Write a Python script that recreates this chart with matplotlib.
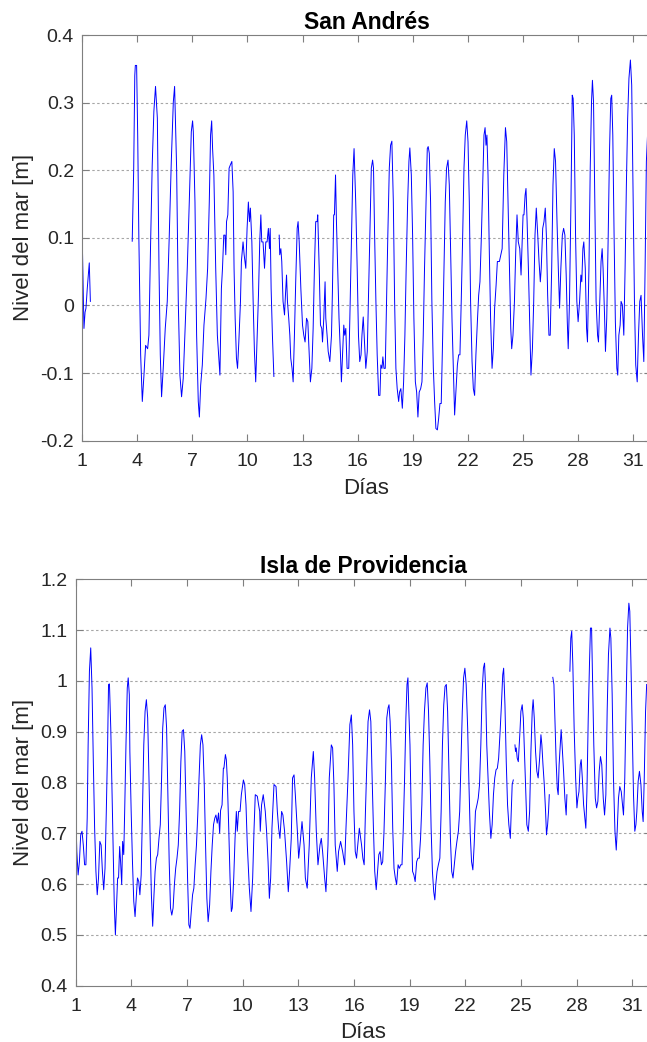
import numpy as np
import matplotlib
matplotlib.use("Agg")
import matplotlib.pyplot as plt
from matplotlib.ticker import FuncFormatter

plt.rcParams["font.family"] = ["Liberation Sans", "DejaVu Sans"]
plt.rcParams["axes.unicode_minus"] = False

nan = np.nan

# ---- San Andrés: sea level (m) vs day of month (NaN = missing records) ----
dias_sa = [
    1.00, 1.09, 1.15, 1.20, 1.27, 1.38, 1.44, nan,
    3.72, 3.80, 3.86, 3.89, 3.96, 4.02, 4.08, 4.14, 4.18, 4.27, 4.36, 4.45,
    4.56, 4.63, 4.72, 4.81, 4.90, 4.99, 5.09, 5.18, 5.25, 5.32, 5.41, 5.52,
    5.63, 5.74, 5.85, 5.96, 6.03, 6.14, 6.23, 6.32, 6.41, 6.50, 6.61, 6.72,
    6.83, 6.94, 7.01, 7.05, 7.14, 7.23, 7.32, 7.38, 7.45, 7.54, 7.63, 7.74,
    7.83, 7.92, 7.99, 8.05, 8.10, 8.17, 8.27, 8.36, 8.43, 8.50, 8.58, 8.64,
    8.71, 8.78, 8.82, 8.86, 8.93, 9.00, 9.07, 9.15, 9.22, 9.27, 9.33, 9.40,
    9.46, 9.53, 9.62, 9.67, 9.76, 9.82, 9.91, 9.98, 10.05, 10.11, 10.16,
    10.24, 10.31, 10.38, 10.45, 10.53, 10.60, 10.67, 10.73, 10.78, 10.85,
    10.93, 11.00, 11.07, 11.14, 11.20, 11.24, 11.29, 11.36, 11.44, nan,
    11.73, 11.76, 11.82, 11.87, 11.94, 12.02, 12.07, 12.13, 12.18, 12.25,
    12.31, 12.36, 12.43, 12.49, 12.56, 12.63, 12.71, 12.76, 12.82, 12.91,
    13.00, 13.07, 13.14, 13.22, 13.29, 13.36, 13.43, 13.51, 13.58, 13.65,
    13.72, 13.80, 13.83, 13.91, 13.98, 14.05, 14.09, 14.16, 14.23, 14.27,
    14.34, 14.40, 14.49, 14.58, 14.63, 14.70, 14.74, 14.80, 14.85, 14.92,
    14.99, 15.07, 15.12, 15.18, 15.25, 15.30, 15.36, 15.43, 15.52, 15.58,
    15.67, 15.74, 15.81, 15.90, 15.98, 16.05, 16.12, 16.19, 16.24, 16.31,
    16.38, 16.45, 16.53, 16.60, 16.67, 16.75, 16.82, 16.87, 16.93, 17.00,
    17.07, 17.15, 17.22, 17.27, 17.33, 17.38, 17.44, 17.51, 17.58, 17.65,
    17.73, 17.80, 17.87, 17.95, 18.02, 18.09, 18.16, 18.24, 18.29, 18.36,
    18.44, 18.51, 18.58, 18.65, 18.73, 18.80, 18.85, 18.93, 19.00, 19.07,
    19.15, 19.22, 19.29, 19.36, 19.44, 19.51, 19.58, 19.65, 19.73, 19.80,
    19.85, 19.91, 19.98, 20.05, 20.13, 20.20, 20.27, 20.35, 20.42, 20.49,
    20.56, 20.64, 20.71, 20.78, 20.85, 20.93, 21.00, 21.07, 21.15, 21.22,
    21.29, 21.36, 21.44, 21.51, 21.58, 21.65, 21.73, 21.80, 21.87, 21.95,
    22.02, 22.09, 22.16, 22.24, 22.31, 22.38, 22.45, 22.53, 22.60, 22.67,
    22.75, 22.82, 22.89, 22.95, 23.00, 23.05, 23.11, 23.18, 23.25, 23.33,
    23.40, 23.47, 23.55, 23.62, 23.73, 23.88, 23.97, 24.06, 24.13, 24.20,
    24.28, 24.35, 24.40, 24.47, 24.55, 24.62, 24.69, 24.76, 24.84, 24.91,
    24.96, 25.02, 25.07, 25.13, 25.18, 25.24, 25.31, 25.38, 25.45, 25.53,
    25.60, 25.67, 25.74, 25.82, 25.89, 25.96, 26.01, 26.09, 26.16, 26.23,
    26.29, 26.36, 26.43, 26.50, 26.58, 26.65, 26.72, 26.79, 26.87, 26.94,
    27.01, 27.08, 27.16, 27.23, 27.30, 27.37, 27.43, 27.48, 27.55, 27.63,
    27.70, 27.75, 27.81, 27.88, 27.95, 28.02, 28.10, 28.17, 28.22, 28.28,
    28.33, 28.41, 28.48, 28.53, 28.61, 28.68, 28.75, 28.80, 28.86, 28.93,
    29.00, 29.08, 29.13, 29.20, 29.27, 29.33, 29.38, 29.46, 29.51, 29.58,
    29.66, 29.73, 29.80, 29.85, 29.91, 29.98, 30.05, 30.13, 30.18, 30.24,
    30.31, 30.36, 30.43, 30.51, 30.58, 30.65, 30.72, 30.79, 30.87, 30.94,
    31.01, 31.09, 31.16, 31.24, 31.31, 31.38, 31.45, 31.53, 31.60, 31.67,
    31.74, 31.80,
]
nivel_sa = [
    0.094, -0.034, -0.010, -0.004, 0.025, 0.063, 0.006, nan,
    0.095, 0.200, 0.340, 0.355, 0.355, 0.250, 0.104, -0.004, -0.073, -0.142, -0.103, -0.059,
    -0.064, -0.044, 0.089, 0.208, 0.287, 0.324, 0.277, 0.055, -0.073, -0.135, -0.093, -0.034,
    0.006, 0.104, 0.213, 0.301, 0.324, 0.203, 0.006, -0.103, -0.135, -0.108, -0.029, 0.055,
    0.153, 0.257, 0.273, 0.257, 0.153, -0.044, -0.142, -0.165, -0.118, -0.088, -0.029, 0.010,
    0.055, 0.153, 0.252, 0.273, 0.232, 0.193, 0.055, -0.044, -0.073, -0.103, 0.025, 0.055,
    0.104, 0.104, 0.075, 0.124, 0.134, 0.203, 0.208, 0.213, 0.168, 0.055, -0.019, -0.078,
    -0.093, -0.054, 0.006, 0.065, 0.094, 0.075, 0.055, 0.114, 0.153, 0.124, 0.144,
    0.094, 0.006, -0.068, -0.113, -0.044, 0.015, 0.094, 0.134, 0.094, 0.094,
    0.055, 0.094, 0.094, 0.114, 0.084, 0.114, 0.025, -0.044, -0.105, nan,
    0.104, 0.075, 0.084, 0.065, 0.006, -0.014, 0.015, 0.045, 0.006, -0.019,
    -0.044, -0.078, -0.093, -0.113, -0.044, 0.035, 0.114, 0.124, 0.094, 0.025,
    -0.029, -0.044, -0.054, -0.019, -0.024, -0.068, -0.113, -0.093, -0.034, 0.055,
    0.124, 0.124, 0.134, 0.055, -0.029, -0.034, -0.054, -0.019, 0.035, -0.019,
    -0.044, -0.068, -0.083, -0.044, 0.020, 0.134, 0.134, 0.193, 0.124, 0.055,
    -0.019, -0.073, -0.113, -0.073, -0.029, -0.044, -0.034, -0.093, -0.093, -0.019,
    0.104, 0.193, 0.232, 0.153, 0.055, -0.044, -0.083, -0.073, -0.044, -0.017,
    -0.054, -0.093, -0.068, 0.015, 0.104, 0.203, 0.215, 0.203, 0.104, 0.006,
    -0.073, -0.133, -0.133, -0.088, -0.093, -0.076, -0.093, -0.093, 0.006, 0.104,
    0.203, 0.237, 0.243, 0.153, 0.006, -0.093, -0.123, -0.142, -0.128, -0.123,
    -0.152, -0.113, -0.044, 0.055, 0.153, 0.213, 0.233, 0.193, 0.104, -0.019,
    -0.113, -0.128, -0.165, -0.128, -0.123, -0.113, -0.044, 0.055, 0.153, 0.232,
    0.235, 0.225, 0.153, 0.006, -0.093, -0.142, -0.182, -0.184, -0.167, -0.145,
    -0.145, -0.044, 0.055, 0.153, 0.203, 0.215, 0.178, 0.080, -0.024, -0.093,
    -0.162, -0.128, -0.088, -0.073, -0.073, 0.006, 0.104, 0.203, 0.252, 0.273,
    0.242, 0.153, 0.006, -0.083, -0.123, -0.133, -0.073, -0.024, 0.015, 0.035,
    0.104, 0.178, 0.252, 0.263, 0.237, 0.252, 0.193, 0.080, -0.019, -0.093,
    -0.064, -0.004, 0.030, 0.065, 0.065, 0.084, 0.193, 0.263, 0.242, 0.153,
    0.045, -0.034, -0.064, -0.044, 0.006, 0.080, 0.134, 0.094, 0.084, 0.045,
    0.084, 0.134, 0.134, 0.163, 0.173, 0.124, 0.055, -0.024, -0.103, -0.064,
    0.006, 0.104, 0.144, 0.104, 0.065, 0.035, 0.055, 0.114, 0.124, 0.144,
    0.104, 0.015, -0.044, -0.044, 0.055, 0.178, 0.232, 0.213, 0.124, 0.055,
    -0.004, 0.055, 0.104, 0.114, 0.104, 0.045, -0.024, -0.064, 0.006, 0.153,
    0.311, 0.306, 0.252, 0.104, 0.006, -0.024, 0.006, 0.045, 0.035, 0.084,
    0.094, 0.055, -0.034, -0.054, 0.055, 0.203, 0.301, 0.333, 0.301, 0.153,
    0.006, -0.044, -0.054, 0.006, 0.065, 0.084, 0.055, -0.014, -0.068, -0.019,
    0.104, 0.227, 0.306, 0.311, 0.252, 0.104, -0.024, -0.093, -0.103, -0.044,
    -0.029, 0.006, 0.001, -0.044, 0.055, 0.178, 0.277, 0.336, 0.363, 0.326,
    0.178, 0.006, -0.088, -0.113, -0.044, 0.006, 0.015, -0.044, -0.083, 0.055,
    0.213, 0.250,
]

# ---- Isla de Providencia: sea level (m) vs day of month ----
dias_pv = [
    1.00, 1.06, 1.13, 1.20, 1.27, 1.34, 1.41, 1.48, 1.55, 1.62, 1.67, 1.74,
    1.81, 1.88, 1.95, 2.02, 2.09, 2.16, 2.23, 2.30, 2.37, 2.44, 2.51, 2.58,
    2.65, 2.72, 2.77, 2.82, 2.89, 2.96, 3.03, 3.08, 3.14, 3.19, 3.26, 3.31,
    3.37, 3.42, 3.48, 3.53, 3.59, 3.64, 3.71, 3.78, 3.83, 3.89, 3.92, 3.99,
    4.06, 4.13, 4.20, 4.26, 4.33, 4.40, 4.46, 4.53, 4.60, 4.67, 4.74, 4.81,
    4.88, 4.95, 5.02, 5.08, 5.15, 5.22, 5.28, 5.35, 5.42, 5.49, 5.56, 5.63,
    5.69, 5.76, 5.83, 5.90, 5.97, 6.04, 6.11, 6.18, 6.25, 6.32, 6.39, 6.46,
    6.53, 6.60, 6.67, 6.74, 6.81, 6.88, 6.95, 7.03, 7.10, 7.16, 7.23, 7.30,
    7.37, 7.44, 7.51, 7.58, 7.65, 7.72, 7.79, 7.86, 7.93, 8.00, 8.07, 8.14,
    8.22, 8.29, 8.36, 8.43, 8.50, 8.56, 8.63, 8.70, 8.76, 8.81, 8.89, 8.96,
    8.99, 9.07, 9.12, 9.17, 9.25, 9.32, 9.39, 9.44, 9.52, 9.59, 9.66, 9.71,
    9.78, 9.86, 9.93, 10.04, 10.11, 10.18, 10.25, 10.36, 10.45, 10.54, 10.61,
    10.68, 10.79, 10.86, 10.92, 10.95, 11.02, 11.11, 11.22, 11.29, 11.37,
    11.44, 11.51, 11.58, 11.69, 11.80, 11.87, 11.94, 12.01, 12.10, 12.17,
    12.26, 12.37, 12.46, 12.53, 12.62, 12.69, 12.77, 12.84, 12.95, 13.02,
    13.09, 13.20, 13.31, 13.38, 13.48, 13.59, 13.70, 13.81, 13.88, 13.97,
    14.06, 14.17, 14.24, 14.31, 14.42, 14.49, 14.60, 14.67, 14.78, 14.85,
    14.92, 14.99, 15.10, 15.17, 15.28, 15.39, 15.50, 15.57, 15.68, 15.78,
    15.86, 15.93, 16.00, 16.07, 16.14, 16.29, 16.41, 16.48, 16.55, 16.62,
    16.69, 16.76, 16.84, 16.91, 16.98, 17.05, 17.12, 17.20, 17.27, 17.34,
    17.41, 17.48, 17.55, 17.62, 17.70, 17.77, 17.84, 17.89, 17.95, 18.02,
    18.09, 18.16, 18.23, 18.30, 18.38, 18.45, 18.52, 18.59, 18.66, 18.73,
    18.80, 18.86, 18.91, 18.96, 19.02, 19.09, 19.16, 19.23, 19.30, 19.38,
    19.45, 19.52, 19.59, 19.66, 19.73, 19.80, 19.88, 19.95, 20.02, 20.09,
    20.16, 20.23, 20.30, 20.36, 20.41, 20.48, 20.55, 20.63, 20.70, 20.77,
    20.84, 20.91, 20.98, 21.05, 21.13, 21.20, 21.27, 21.34, 21.41, 21.48,
    21.55, 21.63, 21.70, 21.77, 21.84, 21.91, 21.98, 22.05, 22.13, 22.20,
    22.27, 22.34, 22.41, 22.48, 22.55, 22.63, 22.70, 22.77, 22.84, 22.91,
    22.98, 23.04, 23.09, 23.16, 23.23, 23.30, 23.38, 23.45, 23.52, 23.59,
    23.66, 23.73, 23.80, 23.88, 23.95, 24.02, 24.07, 24.14, 24.21, 24.28,
    24.35, 24.43, 24.48, 24.53, 24.59, nan,
    24.68, 24.71, 24.75, 24.80, 24.86, 24.89, 24.95, 25.00, 25.07, 25.13,
    25.18, 25.25, 25.32, 25.40, 25.47, 25.54, 25.61, 25.66, 25.72, 25.79,
    25.86, 25.93, 26.01, 26.08, 26.13, 26.19, 26.26, 26.33, 26.38, 26.44,
    26.49, 26.53, nan,
    26.72, 26.78, 26.83, 26.90, 26.96, 27.01, 27.06, 27.12, 27.17, 27.22,
    27.30, 27.37, 27.44, 27.48, nan,
    27.64, 27.69, 27.74, 27.80, 27.87, 27.95, 28.02, 28.07, 28.13, 28.20,
    28.25, 28.31, 28.38, 28.45, 28.50, 28.56, 28.63, 28.70, 28.75, 28.81,
    28.86, 28.93, 29.01, 29.08, 29.15, 29.22, 29.29, 29.36, 29.44, 29.51,
    29.58, 29.65, 29.72, 29.80, 29.85, 29.92, 29.99, 30.07, 30.14, 30.19,
    30.26, 30.33, 30.41, 30.48, 30.53, 30.60, 30.68, 30.75, 30.82, 30.87,
    30.93, 31.00, 31.07, 31.14, 31.20, 31.25, 31.32, 31.39, 31.47, 31.54,
    31.59, 31.65, 31.72, 31.78,
]
nivel_pv = [
    0.743, 0.664, 0.618, 0.644, 0.697, 0.704, 0.677, 0.638, 0.638, 0.730, 0.874, 1.019,
    1.065, 0.986, 0.841, 0.710, 0.625, 0.579, 0.612, 0.684, 0.677, 0.625, 0.589, 0.631,
    0.743, 0.874, 0.993, 0.994, 0.907, 0.776, 0.644, 0.559, 0.500, 0.546, 0.612, 0.612,
    0.674, 0.644, 0.599, 0.684, 0.658, 0.743, 0.874, 0.986, 1.006, 0.973, 0.861, 0.743,
    0.644, 0.566, 0.536, 0.572, 0.612, 0.605, 0.579, 0.618, 0.743, 0.874, 0.940, 0.963,
    0.927, 0.809, 0.677, 0.579, 0.517, 0.579, 0.625, 0.651, 0.658, 0.690, 0.717, 0.809,
    0.907, 0.947, 0.953, 0.907, 0.776, 0.644, 0.553, 0.539, 0.553, 0.599, 0.631, 0.651,
    0.677, 0.743, 0.841, 0.901, 0.904, 0.861, 0.743, 0.612, 0.520, 0.513, 0.546, 0.579,
    0.592, 0.638, 0.677, 0.736, 0.809, 0.874, 0.894, 0.874, 0.796, 0.677, 0.572, 0.526,
    0.559, 0.625, 0.677, 0.717, 0.730, 0.736, 0.720, 0.740, 0.700, 0.745, 0.756, 0.828,
    0.828, 0.855, 0.845, 0.809, 0.710, 0.612, 0.546, 0.553, 0.612, 0.690, 0.743, 0.704,
    0.743, 0.743, 0.776, 0.805, 0.796, 0.756, 0.677, 0.592, 0.546, 0.612, 0.704,
    0.776, 0.773, 0.756, 0.743, 0.704, 0.756, 0.776, 0.743, 0.704, 0.644,
    0.572, 0.612, 0.710, 0.796, 0.792, 0.743, 0.710, 0.690, 0.743, 0.736,
    0.704, 0.644, 0.585, 0.625, 0.690, 0.809, 0.815, 0.776, 0.704, 0.651,
    0.677, 0.723, 0.677, 0.612, 0.592, 0.677, 0.809, 0.861, 0.809, 0.704,
    0.638, 0.677, 0.690, 0.664, 0.612, 0.585, 0.677, 0.809, 0.874, 0.868,
    0.796, 0.677, 0.625, 0.664, 0.684, 0.664, 0.638, 0.710, 0.809, 0.914,
    0.933, 0.874, 0.743, 0.664, 0.651, 0.710, 0.677, 0.651, 0.638, 0.743,
    0.835, 0.920, 0.943, 0.920, 0.809, 0.710, 0.625, 0.589, 0.625, 0.658,
    0.664, 0.638, 0.644, 0.704, 0.809, 0.927, 0.947, 0.953, 0.920, 0.841,
    0.710, 0.631, 0.612, 0.599, 0.638, 0.631, 0.638, 0.638, 0.710, 0.809,
    0.927, 0.993, 1.006, 0.940, 0.874, 0.730, 0.625, 0.618, 0.605, 0.644,
    0.651, 0.651, 0.690, 0.756, 0.874, 0.940, 0.986, 0.996, 0.940, 0.841,
    0.710, 0.625, 0.585, 0.569, 0.599, 0.625, 0.638, 0.651, 0.743, 0.874,
    0.953, 0.989, 0.993, 0.940, 0.809, 0.690, 0.625, 0.612, 0.638, 0.664,
    0.684, 0.704, 0.743, 0.841, 0.940, 1.006, 1.025, 0.993, 0.907, 0.796,
    0.697, 0.644, 0.628, 0.677, 0.743, 0.756, 0.769, 0.796, 0.874, 0.979,
    1.025, 1.035, 0.993, 0.874, 0.809, 0.743, 0.690, 0.717, 0.776, 0.809,
    0.825, 0.828, 0.848, 0.901, 0.953, 1.012, 1.025, 0.953, 0.841, 0.756,
    0.717, 0.690, 0.743, 0.796, 0.805, nan,
    0.874, 0.861, 0.868, 0.848, 0.841, 0.861, 0.901, 0.940, 0.953, 0.927,
    0.874, 0.796, 0.717, 0.704, 0.743, 0.861, 0.940, 0.963, 0.927, 0.861,
    0.822, 0.809, 0.848, 0.894, 0.874, 0.835, 0.796, 0.743, 0.697, 0.717,
    0.743, 0.776, nan,
    1.007, 0.993, 0.927, 0.841, 0.789, 0.776, 0.835, 0.874, 0.904, 0.874,
    0.822, 0.769, 0.736, 0.776, nan,
    1.019, 1.084, 1.098, 1.032, 0.907, 0.809, 0.750, 0.769, 0.782, 0.835,
    0.845, 0.809, 0.756, 0.730, 0.710, 0.782, 0.927, 1.038, 1.104, 1.104,
    1.006, 0.874, 0.769, 0.750, 0.763, 0.822, 0.851, 0.835, 0.769, 0.736,
    0.776, 0.940, 1.052, 1.104, 1.084, 0.973, 0.809, 0.704, 0.667, 0.704,
    0.769, 0.792, 0.782, 0.756, 0.736, 0.809, 0.973, 1.104, 1.153, 1.137,
    1.038, 0.907, 0.776, 0.704, 0.717, 0.743, 0.802, 0.822, 0.796, 0.743,
    0.723, 0.809, 0.940, 0.993,
]

dias_ticks = [1, 4, 7, 10, 13, 16, 19, 22, 25, 28, 31]
ticks_sa = [-0.2, -0.1, 0.0, 0.1, 0.2, 0.3, 0.4]
ticks_pv = [0.4, 0.5, 0.6, 0.7, 0.8, 0.9, 1.0, 1.1, 1.2]

W, H = 647, 1042
fig = plt.figure(figsize=(W / 100, H / 100), dpi=100)

spine_col = "#7f7f7f"
text_col = "#262626"


def fmt(v, pos):
    s = "%g" % round(v, 3)
    return "0" if s in ("-0", "0") else s


def style_axis(ax, yticks, ylim, title, ycenter_px, xlabel_px, xlabel_top_px):
    ax.set_xlim(1, 32)
    ax.set_ylim(*ylim)
    ax.set_xticks(dias_ticks)
    ax.set_yticks(yticks)
    ax.yaxis.set_major_formatter(FuncFormatter(fmt))
    ax.tick_params(direction="in", length=5, width=0.8, color=spine_col,
                   labelsize=14, labelcolor=text_col, top=True, right=True)
    ax.tick_params(axis="x", pad=8.5)
    ax.tick_params(axis="y", pad=6)
    for s in ax.spines.values():
        s.set_color(spine_col)
        s.set_linewidth(0.8)
    for yv in yticks[1:-1]:
        ax.axhline(yv, color="#a6a6a6", lw=0.8, ls=(0, (2.2, 2.2)), zorder=0)
    ax.set_title(title, fontsize=16.5, fontweight="bold", pad=4.5)
    ax.set_ylabel("Nivel del mar [m]", fontsize=16, color=text_col)
    ax.yaxis.set_label_coords(34 / W, 1 - ycenter_px / H,
                              transform=fig.transFigure)
    ax.set_xlabel("Días", fontsize=16, color=text_col, va="top")
    ax.xaxis.set_label_coords(xlabel_px / W, 1 - xlabel_top_px / H,
                              transform=fig.transFigure)


# top panel
ax1 = fig.add_axes([82.3 / W, 1 - 440.7 / H, (31 * 18.35) / W, 405.7 / H])
ax1.plot(dias_sa, nivel_sa, color="#0000ff", lw=0.7)
style_axis(ax1, ticks_sa, (-0.2, 0.4), "San Andrés", 237.8, 366.5, 478)

# bottom panel
ax2 = fig.add_axes([75.7 / W, 1 - 985.7 / H, (31 * 18.55) / W, 406.4 / H])
ax2.plot(dias_pv, nivel_pv, color="#0000ff", lw=0.7)
style_axis(ax2, ticks_pv, (0.4, 1.2), "Isla de Providencia", 782.5, 363.5, 1022)

fig.savefig("out.png", dpi=100)
